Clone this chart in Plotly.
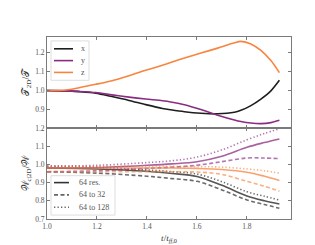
import plotly.graph_objects as go
from plotly.subplots import make_subplots

# ---- top panel data: T_2D / T ----
x_top = [1.0, 1.075, 1.128, 1.195, 1.26, 1.328, 1.395, 1.462, 1.495, 1.55, 1.616, 1.683, 1.75, 1.776, 1.816, 1.856, 1.896, 1.93]
t_x = [1.0, 0.999, 0.995, 0.987, 0.969, 0.949, 0.927, 0.907, 0.900, 0.890, 0.882, 0.879, 0.887, 0.897, 0.922, 0.956, 0.999, 1.054]
t_y = [1.0, 0.999, 0.996, 0.990, 0.978, 0.966, 0.956, 0.947, 0.941, 0.926, 0.901, 0.872, 0.847, 0.839, 0.831, 0.828, 0.833, 0.845]
t_z = [1.0, 1.003, 1.015, 1.033, 1.052, 1.078, 1.106, 1.133, 1.147, 1.170, 1.196, 1.222, 1.250, 1.257, 1.244, 1.210, 1.157, 1.094]

# ---- bottom panel data: W_c|2D / W ----
x_bot = [1.0, 1.2, 1.4, 1.5, 1.6, 1.7, 1.8, 1.87, 1.93]
w_x_res = [0.98, 0.975, 0.962, 0.950, 0.934, 0.885, 0.827, 0.800, 0.782]
w_x_32 = [0.96, 0.952, 0.935, 0.922, 0.907, 0.860, 0.805, 0.780, 0.759]
w_x_128 = [0.99, 0.985, 0.970, 0.960, 0.947, 0.905, 0.850, 0.825, 0.804]
w_y_res = [0.98, 0.983, 0.995, 1.003, 1.015, 1.045, 1.094, 1.120, 1.140]
w_y_32 = [0.96, 0.965, 0.978, 0.985, 0.995, 1.015, 1.035, 1.035, 1.032]
w_y_128 = [0.99, 0.995, 1.010, 1.020, 1.040, 1.080, 1.135, 1.170, 1.195]
w_z_res = [0.98, 0.980, 0.980, 0.980, 0.978, 0.972, 0.957, 0.935, 0.912]
w_z_32 = [0.96, 0.960, 0.960, 0.960, 0.958, 0.945, 0.907, 0.880, 0.853]
w_z_128 = [0.99, 0.990, 0.990, 0.989, 0.988, 0.985, 0.975, 0.965, 0.952]

labels_top = ["x", "y", "z"]
labels_bot = ["64 res.", "64 to 32", "64 to 128"]

C_BLACK = "#1e1e1e"
C_PURPLE = "#8a2c82"
C_ORANGE = "#f8843f"
colors = [C_BLACK, C_PURPLE, C_ORANGE]
FONT = "Liberation Serif"

W, H = 315, 245
ML, MR, MT, MB = 39, 32, 29, 31
PW, PH = W - ML - MR, H - MT - MB


def px(x):
    return (x - ML) / PW


def py(y):
    return (H - MB - y) / PH


fig = make_subplots(rows=2, cols=1, shared_xaxes=True, vertical_spacing=0)

for lab, ys, col in zip(labels_top, [t_x, t_y, t_z], colors):
    fig.add_trace(go.Scatter(x=x_top, y=ys, mode="lines", name=lab, showlegend=False,
                             line=dict(color=col, width=1.6, shape="spline", smoothing=0.8)),
                  row=1, col=1)

dashes = ["solid", "4px,2.5px", "1.3px,2.2px"]
groups = [
    (C_BLACK, [w_x_res, w_x_32, w_x_128]),
    (C_PURPLE, [w_y_res, w_y_32, w_y_128]),
    (C_ORANGE, [w_z_res, w_z_32, w_z_128]),
]
for col, series in groups:
    for ys, d in zip(series, dashes):
        fig.add_trace(go.Scatter(x=x_bot, y=ys, mode="lines", showlegend=False,
                                 opacity=0.75 if d == "solid" else 0.65,
                                 line=dict(color=col, width=1.6, dash=d, shape="spline")),
                      row=2, col=1)

# ---- manual legends (compact, like the reference) ----
shapes = []
annotations = []
# top legend box
shapes.append(dict(type="rect", xref="paper", yref="paper", x0=px(43), x1=px(81), y0=py(73), y1=py(33),
                   line=dict(color="#dddddd", width=1), fillcolor="rgba(255,255,255,0.8)", layer="above"))
for i, (lab, col) in enumerate(zip(labels_top, colors)):
    yy = py(41 + i * 12)
    shapes.append(dict(type="line", xref="paper", yref="paper", x0=px(46), x1=px(65), y0=yy, y1=yy,
                       line=dict(color=col, width=1.6), layer="above"))
    annotations.append(dict(xref="paper", yref="paper", x=px(71), y=yy, text=lab, showarrow=False,
                            xanchor="left", yanchor="middle",
                            font=dict(family=FONT, size=8, color="#555555")))
# bottom legend box
shapes.append(dict(type="rect", xref="paper", yref="paper", x0=px(43), x1=px(107), y0=py(210), y1=py(170),
                   line=dict(color="#dddddd", width=1), fillcolor="rgba(255,255,255,0.8)", layer="above"))
leg_cols = ["#333333", "#666666", "#666666"]
for i, (lab, d) in enumerate(zip(labels_bot, dashes)):
    yy = py(177 + i * 12.5)
    shapes.append(dict(type="line", xref="paper", yref="paper", x0=px(46), x1=px(61), y0=yy, y1=yy,
                       line=dict(color=leg_cols[i], width=1.6, dash=d), layer="above"))
    annotations.append(dict(xref="paper", yref="paper", x=px(69), y=yy, text=lab, showarrow=False,
                            xanchor="left", yanchor="middle",
                            font=dict(family=FONT, size=8, color="#555555")))

axis_common = dict(showline=True, mirror="allticks", linecolor="#7a7a7a", linewidth=1,
                   ticks="inside", ticklen=3, tickcolor="#7a7a7a", showgrid=False,
                   zeroline=False, tickfont=dict(family=FONT, size=7.5, color="#555555"))

fig.update_xaxes(range=[1.0, 1.9765], dtick=0.2, tickformat=".1f", **axis_common)
fig.update_xaxes(showticklabels=False, row=1, col=1)
fig.update_xaxes(title=dict(text="<i>t</i>/<i>t</i><sub><i>ff</i>,0</sub>",
                            font=dict(family=FONT, size=9, color="#333333"), standoff=4),
                 row=2, col=1)
fig.update_yaxes(range=[0.805, 1.280], dtick=0.1, tickformat=".1f", **axis_common, row=1, col=1)
fig.update_yaxes(range=[0.7, 1.2], dtick=0.1, tickformat=".1f", **axis_common, row=2, col=1)
fig.update_yaxes(title=dict(text="𝒯<sub>2D</sub>/𝒯", font=dict(family=FONT, size=10, color="#333333"),
                            standoff=3), row=1, col=1)
fig.update_yaxes(title=dict(text="𝒲<sub>c|2D</sub>/𝒲", font=dict(family=FONT, size=10, color="#333333"),
                            standoff=3), row=2, col=1)

fig.update_layout(
    width=W, height=H,
    margin=dict(l=ML, r=MR, t=MT, b=MB),
    plot_bgcolor="white", paper_bgcolor="white",
    showlegend=False,
    shapes=shapes, annotations=annotations,
)

fig.write_html("out.html")
